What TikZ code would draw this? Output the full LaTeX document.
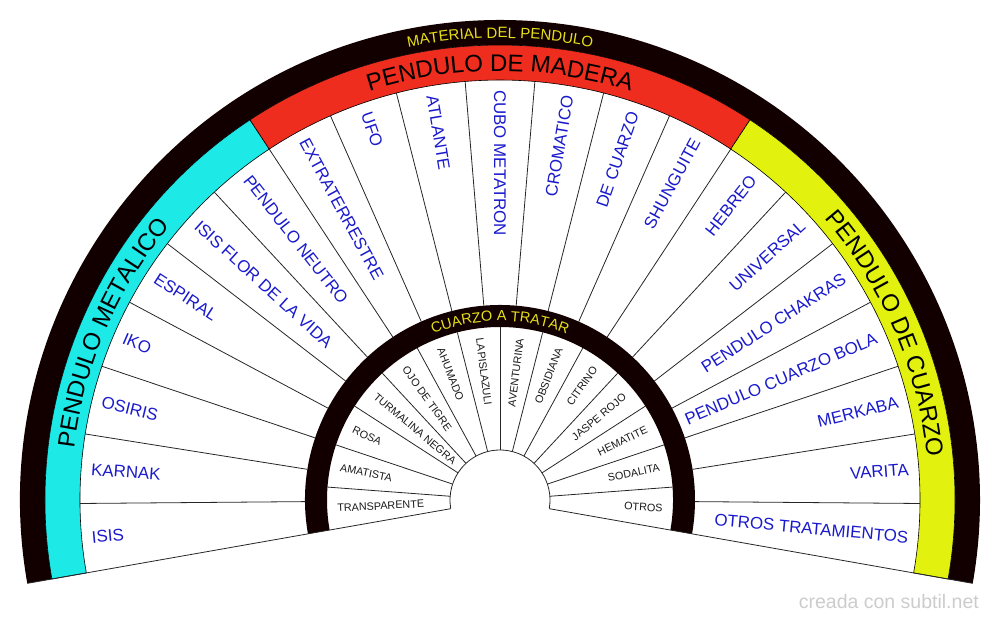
\documentclass[tikz,border=0pt]{standalone}
\usepackage{fontspec}
\setmainfont{Liberation Sans}
\usetikzlibrary{decorations.text}
\definecolor{ringdark}{HTML}{120000}
\definecolor{metalcyan}{HTML}{1DE9E6}
\definecolor{maderared}{HTML}{EE2D1E}
\definecolor{cuarzoyellow}{HTML}{E2F20E}
\definecolor{labelblue}{HTML}{1A1ACC}
\definecolor{ringgold}{HTML}{E6E01A}
\definecolor{markgray}{HTML}{CCCCCC}
\begin{document}
\begin{tikzpicture}[x=1pt,y=1pt,
    spoke/.style={draw=black!85,line width=0.8pt},
    band/.style={draw=black,line width=0.6pt},
    outerlbl/.style={text=labelblue,inner sep=0pt,font=\fontsize{16.9}{17}\selectfont},
    innerlbl/.style={text=black!90,inner sep=0pt,font=\fontsize{10.8}{11}\selectfont},
    arctext/.style={decorate,decoration={text along path,text align=center,text={#1}}}]
  \useasboundingbox (-500,-123) rectangle (500,500);
  \fill[ringdark] (-10:455pt) arc[start angle=-10,end angle=190,radius=455pt]
    -- (190:480pt) arc[start angle=190,end angle=-10,radius=480pt] -- cycle;
  \foreach \a/\b/\c in {123.33/190/metalcyan,56.67/123.33/maderared,-10/56.67/cuarzoyellow}
    \filldraw[band,fill=\c] (\a:420pt) arc[start angle=\a,end angle=\b,radius=420pt]
      -- (\b:455pt) arc[start angle=\b,end angle=\a,radius=455pt] -- cycle;
  \fill[ringdark] (-10:173pt) arc[start angle=-10,end angle=190,radius=173pt]
    -- (190:195pt) arc[start angle=190,end angle=-10,radius=195pt] -- cycle;
  \draw[spoke] (-10:50pt) arc[start angle=-10,end angle=190,radius=50pt];
  \draw[spoke] (-10:50pt) -- (-10:480pt);
  \draw[spoke] (190:50pt) -- (190:480pt);
  \foreach \k in {1,...,20}
    \draw[spoke] ({-10+\k*200/21}:195pt) -- ({-10+\k*200/21}:420pt);
  \foreach \k in {1,...,13}
    \draw[spoke] ({-10+\k*200/14}:50pt) -- ({-10+\k*200/14}:173pt);
  \foreach \t [count=\k from 0] in {OTROS TRATAMIENTOS,VARITA,MERKABA,PENDULO CUARZO BOLA,
      PENDULO CHAKRAS,UNIVERSAL,HEBREO,SHUNGUITE,DE CUARZO,CROMATICO,CUBO METATRON,ATLANTE,
      UFO,EXTRATERRESTRE,PENDULO NEUTRO,ISIS FLOR DE LA VIDA,ESPIRAL,IKO,OSIRIS,KARNAK,ISIS}{
    \pgfmathsetmacro\ang{-10+(\k+0.5)*200/21}
    \ifnum\k<10
      \node[outerlbl,anchor=east,rotate=\ang] (pend\k) at (\ang:410pt) {\t};
    \else
      \node[outerlbl,anchor=west,rotate=\ang-180] (pend\k) at (\ang:410pt) {\t};
    \fi
  }
  \foreach \t [count=\k from 0] in {OTROS,SODALITA,HEMATITE,JASPE ROJO,CITRINO,OBSIDIANA,
      AVENTURINA,LAPISLAZULI,AHUMADO,OJO DE TIGRE,TURMALINA NEGRA,ROSA,AMATISTA,TRANSPARENTE}{
    \pgfmathsetmacro\ang{-10+(\k+0.5)*200/14}
    \ifnum\k<7
      \node[innerlbl,anchor=east,rotate=\ang] (cuarzo\k) at (\ang:163pt) {\t};
    \else
      \node[innerlbl,anchor=west,rotate=\ang-180] (cuarzo\k) at (\ang:163pt) {\t};
    \fi
  }
  \path[arctext={|\color{ringgold}\fontsize{15}{15}\selectfont|MATERIAL DEL PENDULO}]
    (190:462pt) arc[start angle=190,end angle=-10,radius=462pt];
  \path[arctext={|\fontsize{24}{24}\selectfont|PENDULO METALICO}]
    (190:429pt) arc[start angle=190,end angle=123.33,radius=429pt];
  \path[arctext={|\fontsize{24}{24}\selectfont|PENDULO DE MADERA}]
    (123.33:429pt) arc[start angle=123.33,end angle=56.67,radius=429pt];
  \path[arctext={|\fontsize{24}{24}\selectfont|PENDULO DE CUARZO}]
    (56.67:429pt) arc[start angle=56.67,end angle=-10,radius=429pt];
  \path[arctext={|\color{ringgold}\fontsize{14.5}{15}\selectfont|CUARZO A TRATAR}]
    (190:179pt) arc[start angle=190,end angle=-10,radius=179pt];
  \node[text=markgray,anchor=base east,inner sep=0pt,font=\fontsize{19.5}{20}\selectfont] (marca) at (479,-108) {creada con subtil.net};
\end{tikzpicture}
\end{document}
